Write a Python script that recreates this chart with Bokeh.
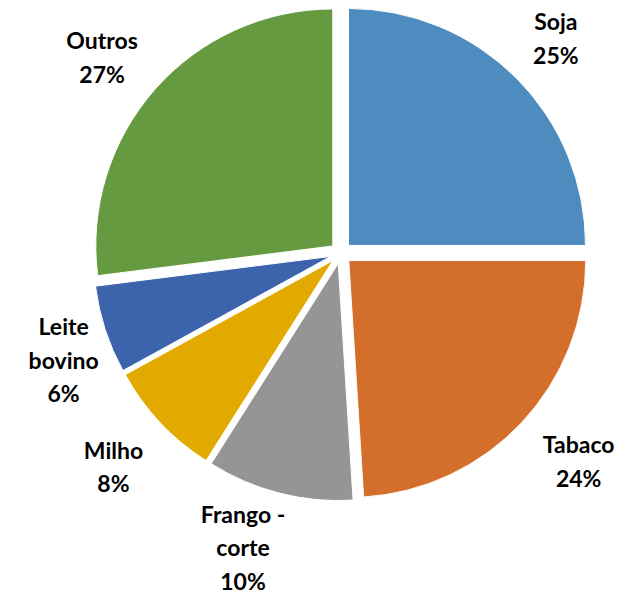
import math
from bokeh.plotting import figure
from bokeh.models import ColumnDataSource
from bokeh.core.properties import value
from bokeh.embed import file_html
from bokeh.resources import INLINE

# Data
categories = ["Soja", "Tabaco", "Frango -\ncorte", "Milho", "Leite\nbovino", "Outros"]
shares = [25, 24, 10, 8, 6, 27]
colors = ["#4E8BBF", "#D36F2B", "#959595", "#E2AA00", "#3C64AD", "#659A41"]

# Layout / style (pixel units)
W, H = 622, 603
CX, CY = 340.4, 350.4
R = 237
EXPLODE = 10.8
label_r = [304, 316, 310, 312, 297, 309]
label_shift_deg = [0, -2, 4, 0, -3, -2]

total = sum(shares)
xs, ys, starts, ends = [], [], [], []
lx, ly, ltxt = [], [], []
cum = 0.0
for i, s in enumerate(shares):
    a0 = cum / total * 2 * math.pi
    a1 = (cum + s) / total * 2 * math.pi
    mid = (a0 + a1) / 2
    xs.append(CX + EXPLODE * math.sin(mid))
    ys.append(CY + EXPLODE * math.cos(mid))
    starts.append(math.pi / 2 - a0)
    ends.append(math.pi / 2 - a1)
    la = mid + math.radians(label_shift_deg[i])
    lx.append(CX + label_r[i] * math.sin(la))
    ly.append(CY + label_r[i] * math.cos(la))
    ltxt.append(f"{categories[i]}\n{round(s / total * 100)}%")
    cum += s

src = ColumnDataSource(dict(x=xs, y=ys, start=starts, end=ends, color=colors))
lsrc = ColumnDataSource(dict(x=lx, y=ly, text=ltxt))

p = figure(width=W, height=H, x_range=(0, W), y_range=(0, H),
           output_backend="svg", toolbar_location=None, min_border=0)
p.axis.visible = False
p.grid.visible = False
p.outline_line_color = None
p.background_fill_color = "white"

p.wedge(x="x", y="y", radius=R, start_angle="start", end_angle="end",
        direction="clock", fill_color="color", line_color="white",
        line_width=1, source=src)

p.text(x="x", y="y", text="text", source=lsrc, text_align="center",
       text_baseline="middle", text_font=value("Lato"),
       text_font_style="bold", text_font_size="23px", text_color="#000000",
       text_line_height=1.2)

open("out.html", "w").write(file_html(p, INLINE))
